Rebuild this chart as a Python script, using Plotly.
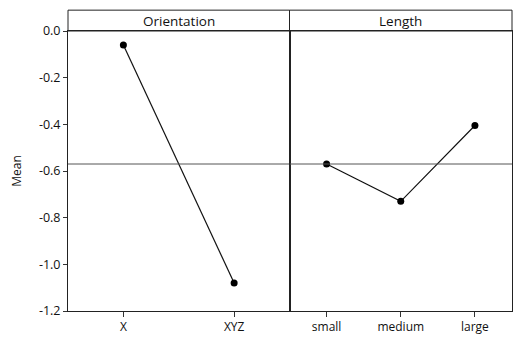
import numpy as np
import plotly.graph_objects as go
from plotly.subplots import make_subplots

# Main effects: mean response at each factor level
orientation_levels = ["X", "XYZ"]
orientation_means = [-0.06, -1.08]
length_levels = ["small", "medium", "large"]
length_means = [-0.57, -0.73, -0.405]
y_ticks = [0.0, -0.2, -0.4, -0.6, -0.8, -1.0, -1.2]
panel_titles = ["Orientation", "Length"]

grand_mean = float(np.mean(orientation_means))

W, H = 515, 337
m_l, m_r, m_t, m_b = 68, 2, 31, 24
plot_h = H - m_t - m_b
strip_h = 21

fig = make_subplots(rows=1, cols=2, shared_yaxes=True, horizontal_spacing=0,
                    column_widths=[222, 223])

font = dict(family="Open Sans, DejaVu Sans, sans-serif", size=12, color="#111")

for col, (levels, means) in enumerate([(orientation_levels, orientation_means),
                                       (length_levels, length_means)], start=1):
    fig.add_trace(go.Scatter(
        x=list(range(len(levels))), y=means, mode="lines+markers",
        line=dict(color="#111", width=1.2),
        marker=dict(color="#000", size=7),
        showlegend=False, hoverinfo="skip"), row=1, col=col)
    fig.add_trace(go.Scatter(
        x=[-0.5, len(levels) - 0.5], y=[grand_mean, grand_mean], mode="lines",
        line=dict(color="#555", width=1), showlegend=False, hoverinfo="skip"),
        row=1, col=col)
    fig.update_xaxes(range=[-0.5, len(levels) - 0.5],
                     tickvals=list(range(len(levels))), ticktext=levels,
                     ticks="outside", ticklen=5, tickcolor="#333",
                     showline=True, mirror=True, linecolor="#222", linewidth=1,
                     showgrid=False, zeroline=False, tickfont=font,
                     row=1, col=col)

fig.update_yaxes(range=[-1.2, 0.0], tickvals=y_ticks,
                 ticktext=["0.0" if v == 0 else f"{v:.1f}" for v in y_ticks],
                 ticks="outside", ticklen=4, tickcolor="#333",
                 showline=True, mirror=True, linecolor="#222", linewidth=1,
                 showgrid=False, zeroline=False, tickfont=dict(font, size=12.5))
fig.update_yaxes(title=dict(text="Mean", font=font, standoff=14), row=1, col=1)
fig.update_yaxes(ticks="", row=1, col=2)

# Strip headers above each panel
strip_top = 1 + strip_h / plot_h
for i, name in enumerate(panel_titles):
    xref = "x domain" if i == 0 else "x2 domain"
    fig.add_shape(type="rect", xref=xref, yref="paper", x0=0, x1=1,
                  y0=1, y1=strip_top, line=dict(color="#222", width=1),
                  fillcolor="white", layer="below")
    fig.add_annotation(xref=xref, yref="paper", x=0.5, y=(1 + strip_top) / 2,
                       text=name, showarrow=False, font=dict(font, size=13.5),
                       xanchor="center", yanchor="middle")

fig.update_layout(width=W, height=H, margin=dict(l=m_l, r=m_r, t=m_t, b=m_b),
                  plot_bgcolor="white", paper_bgcolor="white", font=font)

fig.write_html("out.html")
